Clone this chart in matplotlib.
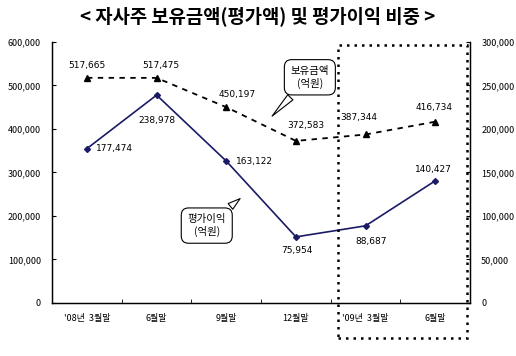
import matplotlib.pyplot as plt
from matplotlib.patches import Rectangle

plt.rcParams['font.family'] = ['Noto Sans CJK KR', 'DejaVu Sans']

categories = ["'08년  3월말", "6월말", "9월말", "12월말", "'09년  3월말", "6월말"]
holdings = [517665, 517475, 450197, 372583, 387344, 416734]   # 보유금액, left axis
gains = [177474, 238978, 163122, 75954, 88687, 140427]         # 평가이익, right axis

hold_offsets = [(0, 9), (3, 9), (8, 9), (7, 11), (-5, 12), (-1, 10)]
gain_offsets = [(20, 0), (0, -18), (20, 0), (1, -10), (4, -11), (-1, 8)]

x = list(range(len(categories)))

fig = plt.figure(figsize=(5.16, 3.56), dpi=100)
ax = fig.add_axes([0.101, 0.149, 0.81, 0.733])
ax2 = ax.twinx()

ax.plot(x, holdings, color="black", linestyle=(0, (3, 3)), linewidth=1.3,
        marker="^", markersize=4.5, zorder=3)
ax2.plot(x, gains, color="#1a1a66", linewidth=1.2,
         marker="D", markersize=3, zorder=3)

for i, v in enumerate(holdings):
    ax.annotate(f"{v:,}", (i, v), xytext=hold_offsets[i], textcoords="offset points",
                ha="center", va="center", fontsize=6.5, family="DejaVu Sans")
for i, v in enumerate(gains):
    ax2.annotate(f"{v:,}", (i, v), xytext=gain_offsets[i], textcoords="offset points",
                 ha="center", va="center", fontsize=6.5, family="DejaVu Sans")

ax.set_xlim(-0.5, len(categories) - 0.5)
ax.set_ylim(0, 600000)
ax2.set_ylim(0, 300000)
ax.set_yticks(range(0, 600001, 100000))
ax2.set_yticks(range(0, 300001, 50000))
ax.yaxis.set_major_formatter(lambda v, p: f"{int(v):,}")
ax2.yaxis.set_major_formatter(lambda v, p: f"{int(v):,}")

ax.set_xticks(x)
ax.set_xticklabels(categories, fontsize=6.5)
ax.set_xticks([i + 0.5 for i in x[:-1]], minor=True)
ax.tick_params(axis="x", which="major", length=0, pad=8)
ax.tick_params(axis="x", which="minor", direction="in", length=3)
ax.tick_params(axis="y", direction="in", length=3, labelsize=6.5, pad=8)
ax2.tick_params(axis="y", direction="in", length=3, labelsize=6.5, pad=8)
for a in (ax, ax2):
    a.spines["top"].set_visible(False)
    for s in ("left", "right", "bottom"):
        a.spines[s].set_linewidth(0.9)

fig.text(0.5, 0.955, "< 자사주 보유금액(평가액) 및 평가이익 비중 >",
         ha="center", va="center", fontsize=13.5, fontweight="bold")

# dotted highlight box around the 2009 points
rect = Rectangle((3.6, -0.134), 1.85, 1.122, transform=ax.get_xaxis_transform(),
                 fill=False, linestyle=(0, (1, 2)), linewidth=1.8, edgecolor="black",
                 clip_on=False, zorder=5)
ax2.add_patch(rect)

bubble = dict(boxstyle="round,pad=0.6,rounding_size=0.7", fc="white", ec="black", lw=0.8)
wedge = dict(arrowstyle="wedge,tail_width=0.7", fc="white", ec="black", lw=0.8)
ax.annotate("보유금액\n(억원)", xy=(2.63, 425000), xytext=(3.2, 519000),
            ha="center", va="center", fontsize=7.5, bbox=bubble, arrowprops=wedge, zorder=6)
ax2.annotate("평가이익\n(억원)", xy=(2.23, 122000), xytext=(1.72, 89000),
             ha="center", va="center", fontsize=7.5, bbox=bubble, arrowprops=wedge, zorder=6)

fig.savefig("out.png", dpi=100)
